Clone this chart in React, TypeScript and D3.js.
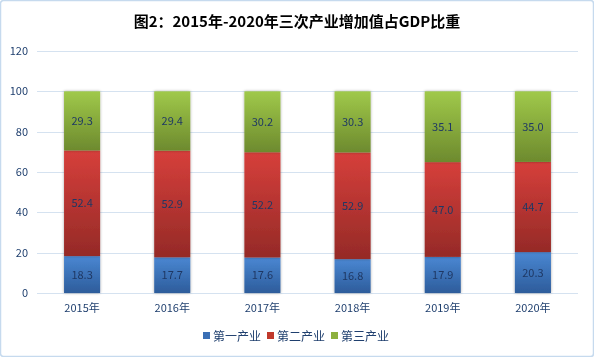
import React from "react";
import * as d3 from "d3";

const categories = ["2015年", "2016年", "2017年", "2018年", "2019年", "2020年"];
const seriesNames = ["第一产业", "第二产业", "第三产业"];
const primary = [18.3, 17.7, 17.6, 16.8, 17.9, 20.3];
const secondary = [52.4, 52.9, 52.2, 52.9, 47.0, 44.7];
const tertiary = [29.3, 29.4, 30.2, 30.3, 35.1, 35.0];
const yTicks = [0, 20, 40, 60, 80, 100, 120];

const W = 594;
const H = 357;
const grads = [
  { id: "g0", top: "#4A87D2", bottom: "#2D5C9B" },
  { id: "g1", top: "#D63F3B", bottom: "#952A27" },
  { id: "g2", top: "#A0C94A", bottom: "#6D8A2E" },
];
const legendColors = ["#3A6FB5", "#C0392B", "#8DB03E"];
const font = "'Noto Sans CJK SC', 'Liberation Sans', sans-serif";

export default function App() {
  const x = d3.scaleBand().domain(categories).range([37, 578]).paddingInner(0.6).paddingOuter(0.3);
  const y = d3.scaleLinear().domain([0, 120]).range([293, 51]);
  const data = categories.map((c, i) => ({ c, vals: [primary[i], secondary[i], tertiary[i]] }));
  const stack = d3.stack<any>().keys(["0", "1", "2"]).value((d: any, k) => d.vals[+k]);
  const stacked = stack(data);
  const bw = x.bandwidth();

  return (
    <div style={{ position: "fixed", left: 0, top: 0 }}>
      <svg width={W} height={H} style={{ display: "block", fontFamily: font }}>
        <defs>
          {grads.map((g) => (
            <linearGradient key={g.id} id={g.id} x1="0" y1="0" x2="0" y2="1">
              <stop offset="0%" stopColor={g.top} />
              <stop offset="100%" stopColor={g.bottom} />
            </linearGradient>
          ))}
          <filter id="sh" x="-30%" y="-10%" width="160%" height="120%">
            <feGaussianBlur in="SourceAlpha" stdDeviation="1.5" />
            <feOffset dx="0" dy="0" result="b" />
            <feComponentTransfer>
              <feFuncA type="linear" slope="0.35" />
            </feComponentTransfer>
            <feMerge>
              <feMergeNode />
              <feMergeNode in="SourceGraphic" />
            </feMerge>
          </filter>
        </defs>
        <rect x={0.5} y={0.5} width={W - 1} height={H - 1} rx={3} fill="#fff" stroke="#C6DAEE" strokeWidth={1.5} />
        <text x={W / 2} y={27} textAnchor="middle" fontSize={15} fontWeight="bold" fill="#000">
          图2：2015年-2020年三次产业增加值占GDP比重
        </text>
        {yTicks.map((t) => (
          <g key={t}>
            <line x1={37} x2={578} y1={Math.round(y(t)) + 0.5} y2={Math.round(y(t)) + 0.5} stroke="#D5E2F0" strokeWidth={1} />
            <text x={28} y={y(t) + 4} textAnchor="end" fontSize={11} fill="#1F3F6E">
              {t}
            </text>
          </g>
        ))}
        {stacked.map((s, si) => (
          <g key={si} filter="url(#sh)">
            {s.map((d: any, i) => (
              <rect key={i} x={x(categories[i])} y={y(d[1])} width={bw} height={y(d[0]) - y(d[1])} fill={`url(#g${si})`} />
            ))}
          </g>
        ))}
        {stacked.map((s, si) =>
          s.map((d: any, i) => (
            <text key={`${si}-${i}`} x={(x(categories[i]) as number) + bw / 2} y={(y(d[0]) + y(d[1])) / 2 + 4} textAnchor="middle" fontSize={11} fill="#1F3864">
              {d.data.vals[si].toFixed(1)}
            </text>
          ))
        )}
        {categories.map((c) => (
          <text key={c} x={(x(c) as number) + bw / 2} y={312} textAnchor="middle" fontSize={11} fill="#1F3F6E">
            {c}
          </text>
        ))}
        {seriesNames.map((n, i) => {
          const lx = 203 + i * 64;
          return (
            <g key={n}>
              <rect x={lx} y={332} width={7} height={7} fill={legendColors[i]} />
              <text x={lx + 10} y={340.5} fontSize={12} fill="#1F3F6E">
                {n}
              </text>
            </g>
          );
        })}
      </svg>
    </div>
  );
}
